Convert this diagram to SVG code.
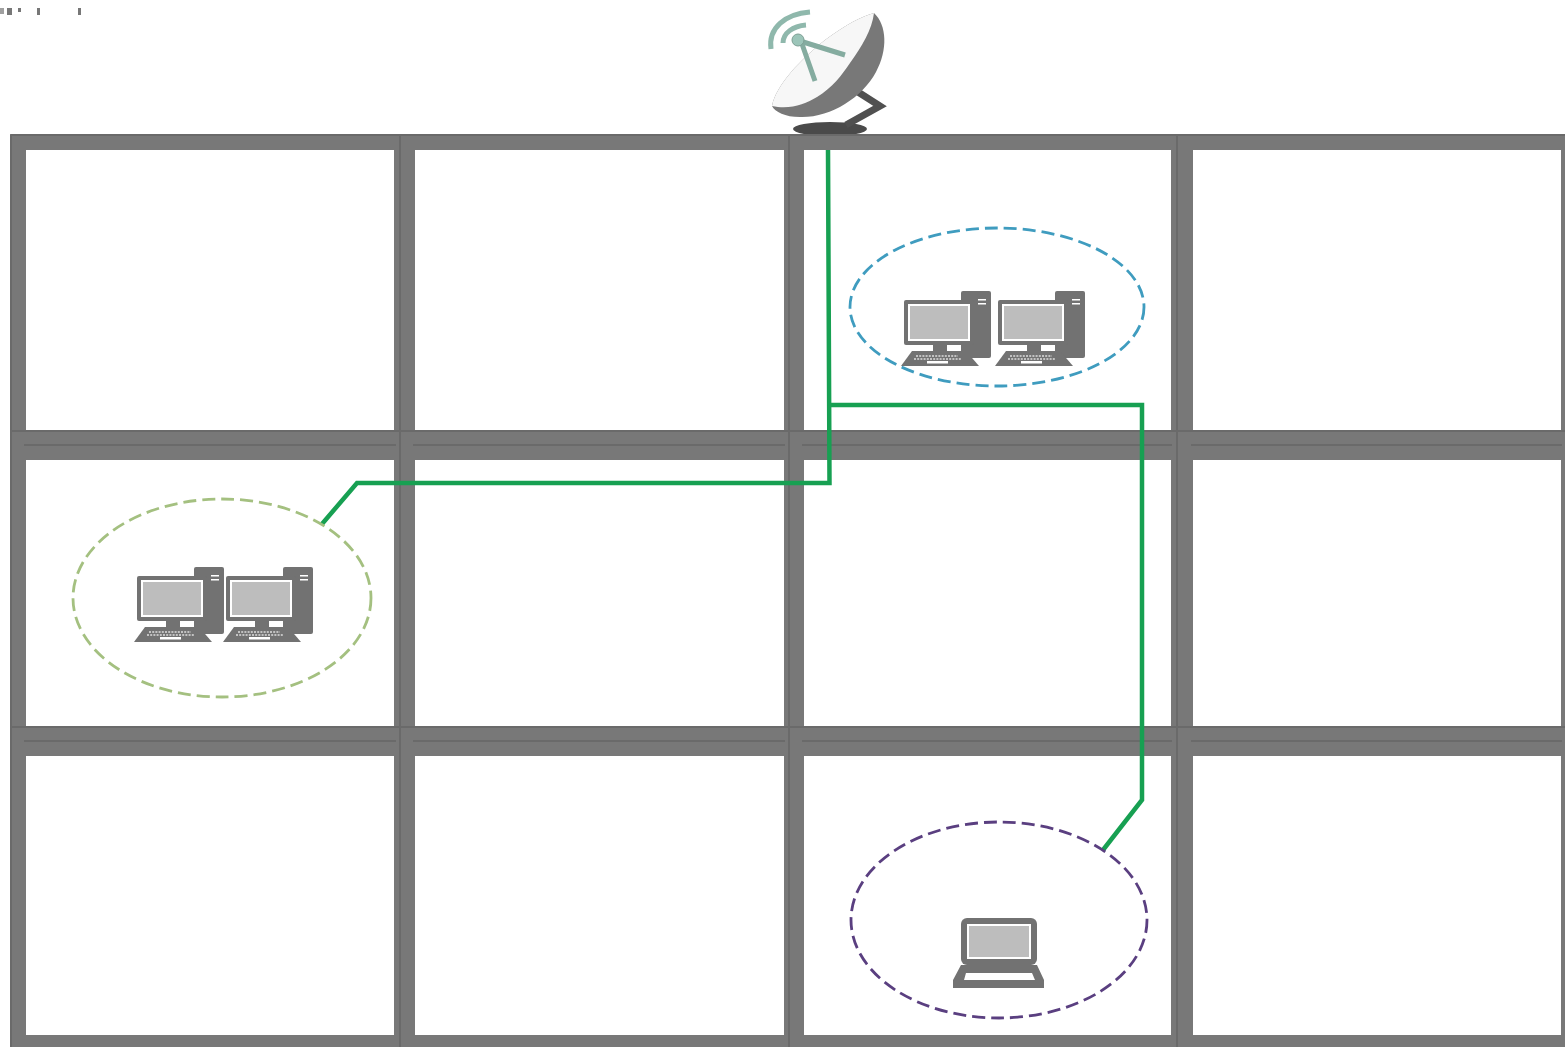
<svg xmlns="http://www.w3.org/2000/svg" width="1565" height="1047" viewBox="0 0 1565 1047">
<style>
.cell{fill:#fff}
.seam{stroke:#6a6a6a;stroke-width:2;fill:none}
.zone{fill:none;stroke-width:2.800;stroke-dasharray:13 6}
.link{fill:none;stroke:#17a052;stroke-width:4.500;stroke-linejoin:miter}
.g{fill:#727272}
.s{fill:#bdbdbd}
.w{fill:#fff}
.spk{fill:#777}
</style>
<defs>
<g id="pc">
<rect class="g" x="961" y="291" width="30" height="67" rx="2"/>
<rect class="w" x="978" y="299" width="8" height="1.500"/>
<rect class="w" x="978" y="303" width="8" height="1.500"/>
<rect class="w" x="945" y="345" width="16" height="6"/>
<rect class="g" x="904" y="300" width="70" height="45" rx="2"/>
<rect class="w" x="908" y="304" width="62" height="37"/>
<rect class="s" x="910" y="306" width="58" height="33"/>
<rect class="g" x="933" y="345" width="14" height="6"/>
<path class="g" d="M912 351H966L979 366H901Z"/>
<path d="M916 356H958M914 359H962" stroke="#ddd" stroke-width="1.600" stroke-dasharray="2 1.200" fill="none"/>
<rect class="w" x="927" y="361" width="21" height="2.500"/>
</g>
</defs>
<g id="specks">
<rect class="spk" x="0" y="8" width="4" height="6" opacity=".7"/>
<rect class="spk" x="7" y="8" width="5" height="7"/>
<rect class="spk" x="18" y="8" width="3" height="4"/>
<rect class="spk" x="37" y="8" width="3" height="7"/>
<rect class="spk" x="78" y="8" width="3" height="7"/>
</g>
<g id="satellite-dish">
<ellipse cx="830" cy="129" rx="37" ry="7" fill="#4a4a4a"/>
<path d="M858 92L880 106L846 125" fill="none" stroke="#505050" stroke-width="7"/>
<path d="M874 13C887 25 888 50 876 72C862 98 830 118 800 117C785 117 775 112 772 106C776 85 800 60 825 40C845 25 862 16 874 13Z" fill="#787878"/>
<path d="M874 13C862 16 845 25 825 40C800 60 776 85 772 106C790 110 805 104 817 97C832 88 842 75 850 63C862 46 872 30 874 13Z" fill="#f7f7f7"/>
<path d="M771 49C768 28 785 14 810 12M783 43C783 33 793 26 806 25" fill="none" stroke="#8fb8ac" stroke-width="5"/>
<path d="M800 41L845 55M802 44L815 81" fill="none" stroke="#85aca0" stroke-width="5"/>
<circle cx="798" cy="40" r="6" fill="#9cc5b9" stroke="#7d9f94"/>
</g>
<g id="building">
<rect x="10" y="134" width="1555" height="913" fill="#787878"/>
<path class="seam" d="M11 135H1565M11 135V1047M400 134V1047M789 134V1047M1177 134V1047M24 445H396M413 445H785M802 445H1172M1191 445H1562M24 741H396M413 741H785M802 741H1172M1191 741H1562M10 431H1565M10 727H1565"/>
<rect class="cell" x="26" y="150" width="368" height="280"/>
<rect class="cell" x="415" y="150" width="369" height="280"/>
<rect class="cell" x="804" y="150" width="367" height="280"/>
<rect class="cell" x="1193" y="150" width="368" height="280"/>
<rect class="cell" x="26" y="460" width="368" height="266"/>
<rect class="cell" x="415" y="460" width="369" height="266"/>
<rect class="cell" x="804" y="460" width="367" height="266"/>
<rect class="cell" x="1193" y="460" width="368" height="266"/>
<rect class="cell" x="26" y="756" width="368" height="279"/>
<rect class="cell" x="415" y="756" width="369" height="279"/>
<rect class="cell" x="804" y="756" width="367" height="279"/>
<rect class="cell" x="1193" y="756" width="368" height="279"/>
</g>
<g id="connectors">
<path class="link" d="M828 150L829.500 483H357L322 524"/>
<path class="link" d="M830 405H1142V800L1103 850"/>
</g>
<g id="zone-blue">
<ellipse class="zone" cx="997" cy="307" rx="147" ry="79" stroke="#3f9cbf"/>
<use href="#pc"/>
<use href="#pc" x="94"/>
</g>
<g id="zone-green">
<ellipse class="zone" cx="222" cy="598" rx="149" ry="99" stroke="#a4c080"/>
<use href="#pc" x="-767" y="276"/>
<use href="#pc" x="-678" y="276"/>
</g>
<g id="zone-purple">
<ellipse class="zone" cx="999" cy="920" rx="148" ry="98" stroke="#5a3f80"/>
<rect class="g" x="961" y="918" width="76" height="47" rx="6"/>
<rect class="w" x="967" y="924" width="64" height="35"/>
<rect class="s" x="969" y="926" width="60" height="31"/>
<path class="g" d="M961 965H1037L1044 980V988H953V980Z"/>
<path class="w" d="M966 973H1032L1035 980H964Z"/>
</g>
</svg>
